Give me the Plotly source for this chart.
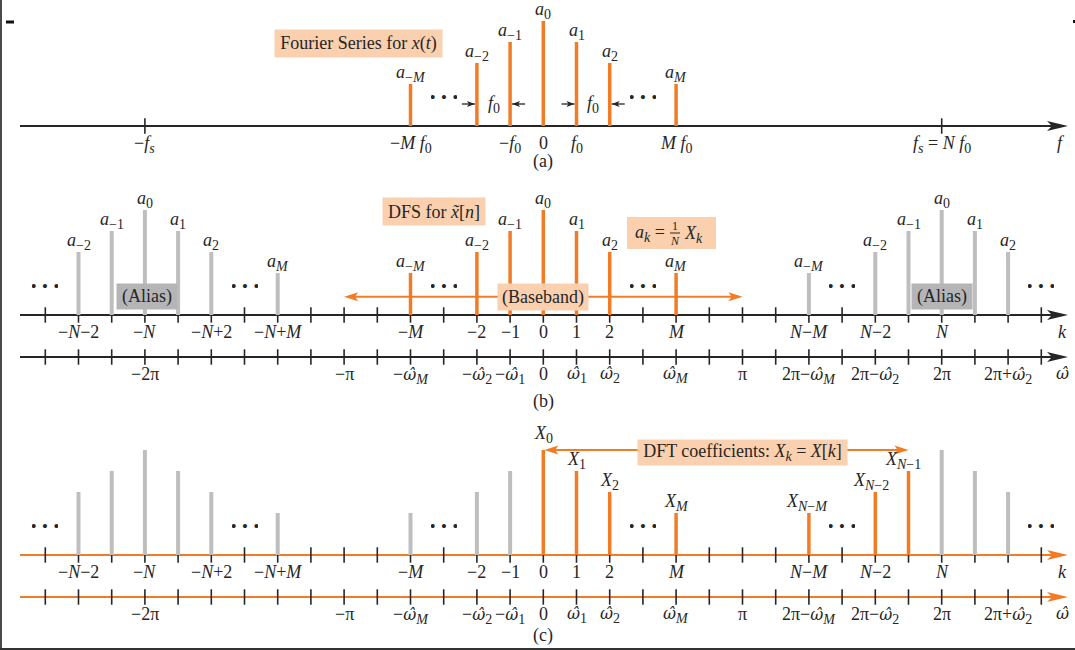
import plotly.graph_objects as go


def S(x):
    """subscript, slightly larger than plotly's default"""
    return '<sub><span style="font-size:14px">' + x + '</span></sub>'


# ---------------- data ----------------
# drawing index positions: M -> 4, N -> 12 (omega: pi -> 6, 2pi -> 12)
ticks_a = [-12, 12]
ticks_bc = list(range(-15, 16))

# (a) Fourier series lines
fs_k = [-4, -2, -1, 0, 1, 2, 4]
fs_amp = [0.4, 0.6, 0.8, 1.0, 0.8, 0.6, 0.4]
fs_lab = ["<i>a</i>" + S("−<i>M</i>"), "<i>a</i>" + S("−2"), "<i>a</i>" + S("−1"),
          "<i>a</i>" + S("0"), "<i>a</i>" + S("1"), "<i>a</i>" + S("2"),
          "<i>a</i>" + S("<i>M</i>")]

# (b) DFS: left alias, baseband, right alias
bl_k = [-14, -13, -12, -11, -10, -8]
bl_amp = [0.6, 0.8, 1.0, 0.8, 0.6, 0.4]
bl_lab = ["<i>a</i>" + S("−2"), "<i>a</i>" + S("−1"), "<i>a</i>" + S("0"),
          "<i>a</i>" + S("1"), "<i>a</i>" + S("2"), "<i>a</i>" + S("<i>M</i>")]
bb_k = [-4, -2, -1, 0, 1, 2, 4]
bb_amp = [0.4, 0.6, 0.8, 1.0, 0.8, 0.6, 0.4]
bb_lab = fs_lab
br_k = [8, 10, 11, 12, 13, 14]
br_amp = [0.4, 0.6, 0.8, 1.0, 0.8, 0.6]
br_lab = ["<i>a</i>" + S("−<i>M</i>"), "<i>a</i>" + S("−2"), "<i>a</i>" + S("−1"),
          "<i>a</i>" + S("0"), "<i>a</i>" + S("1"), "<i>a</i>" + S("2")]

# (c) DFT
cg_k = [-14, -13, -12, -11, -10, -8, -4, -2, -1, 12, 13, 14]
cg_amp = [0.6, 0.8, 1.0, 0.8, 0.6, 0.4, 0.4, 0.6, 0.8, 1.0, 0.8, 0.6]
cd_k = [0, 1, 2, 4, 8, 10, 11]
cd_amp = [1.0, 0.8, 0.6, 0.4, 0.4, 0.6, 0.8]
cd_lab = ["<i>X</i>" + S("0"), "<i>X</i>" + S("1"), "<i>X</i>" + S("2"),
          "<i>X</i>" + S("<i>M</i>"), "<i>X</i>" + S("<i>N</i>−<i>M</i>"),
          "<i>X</i>" + S("<i>N</i>−2"), "<i>X</i>" + S("<i>N</i>−1")]

# tick labels
fa_pos = [-12, -4, -1, 0, 1, 4, 12]
fa_txt = ["−<i>f</i>" + S("<i>s</i>"), "−<i>M f</i>" + S("0"), "−<i>f</i>" + S("0"), "0",
          "<i>f</i>" + S("0"), "<i>M f</i>" + S("0"),
          "<i>f</i>" + S("<i>s</i>") + " = <i>N f</i>" + S("0")]
k_pos = [-14, -12, -10, -8, -4, -2, -1, 0, 1, 2, 4, 8, 10, 12]
k_txt = ["−<i>N</i>−2", "−<i>N</i>", "−<i>N</i>+2", "−<i>N</i>+<i>M</i>", "−<i>M</i>", "−2", "−1",
         "0", "1", "2", "<i>M</i>", "<i>N</i>−<i>M</i>", "<i>N</i>−2", "<i>N</i>"]
w_pos = [-12, -6, -4, -2, -1, 0, 1, 2, 4, 6, 8, 10, 12, 14]
W = '<span style="font-family:DejaVu Serif;font-style:italic;font-size:16px">ω\u0302</span>'
w_txt = ["−2π", "−π", "−" + W + S("<i>M</i>"), "−" + W + S("2"),
         "−" + W + S("1"), "0", W + S("1"), W + S("2"),
         W + S("<i>M</i>"), "π", "2π−" + W + S("<i>M</i>"),
         "2π−" + W + S("2"), "2π", "2π+" + W + S("2")]
dots_a = [-3, 3]
dots_bc = [-15, -9, -3, 3, 9, 15]

# ---------------- styling / geometry ----------------
ORANGE = "#F27C26"
GREY = "#BEBEBE"
PEACH = "#FBD0AE"
ALIAS = "#B5B5B7"
INK = "#262626"
FONT = "Liberation Serif"
FS = 18

W_PX, H_PX = 1075, 650
X0PX, KPX, UNIT = 543.3, 33.2, 105.0
BASE = {"y": 126.0, "y2": 315.0, "y3": 555.0}
OMEGA_OFF = -0.4


def kx(px):
    return (px - X0PX) / KPX


def yu(py, ax):
    return (BASE[ax] - py) / UNIT


def yrange(ax):
    top = BASE[ax] / UNIT
    return [top - H_PX / UNIT, top]


fig = go.Figure()
shapes = []
ann = []


def stems(ks, amps, color, width, ax):
    xs, ys = [], []
    for k, a in zip(ks, amps):
        xs += [k, k, None]
        ys += [0, a, None]
    fig.add_trace(go.Scatter(x=xs, y=ys, mode="lines", yaxis=ax,
                             line=dict(color=color, width=width),
                             hoverinfo="skip", showlegend=False))


def ticks(ks, yval, ax):
    fig.add_trace(go.Scatter(x=ks, y=[yval] * len(ks), mode="markers", yaxis=ax,
                             marker=dict(symbol="line-ns", size=11,
                                         line=dict(color=INK, width=1.6)),
                             hoverinfo="skip", showlegend=False))


def arrow_head(xtip, ytip, ax, direction, color, L=20, H=5, notch=5):
    d = direction
    pts = [(xtip, ytip),
           (xtip - d * L / KPX, ytip + H / UNIT),
           (xtip - d * (L - notch) / KPX, ytip),
           (xtip - d * L / KPX, ytip - H / UNIT)]
    path = "M " + " L ".join(f"{x:.4f},{y:.4f}" for x, y in pts) + " Z"
    shapes.append(dict(type="path", path=path, xref="x", yref=ax,
                       fillcolor=color, line=dict(width=0), layer="above"))


def hline(x0, x1, yv, ax, color, width):
    shapes.append(dict(type="line", x0=x0, x1=x1, y0=yv, y1=yv, xref="x", yref=ax,
                       line=dict(color=color, width=width), layer="below"))


def axis(yv, ax, color):
    hline(kx(20), kx(1056), yv, ax, color, 2.2)
    arrow_head(kx(1068), yv, ax, 1, color, L=21, H=5, notch=5)


def text(x, y, ax, s, size=FS, xanchor="center", yanchor="middle", **kw):
    ann.append(dict(x=x, y=y, xref="x", yref=ax, text=s, showarrow=False,
                    xanchor=xanchor, yanchor=yanchor,
                    font=dict(family=FONT, size=size, color=INK), **kw))


def stem_labels(ks, amps, labs, ax, shifts=None, yshifts=None):
    for i, (k, a, s) in enumerate(zip(ks, amps, labs)):
        xs = shifts[i] if shifts else 0
        ys = yshifts[i] if yshifts else 0
        text(k, a, ax, s, yanchor="bottom", yshift=-3 + ys, xshift=xs)


def tick_labels(pos, txt, yv, ax):
    for p, s in zip(pos, txt):
        text(p, yv - 5 / UNIT, ax, s, yanchor="top")


def dots(ks, ax):
    for k in ks:
        text(k, 30 / UNIT, ax, "···", size=34, yshift=0, width=26, height=12,
             valign="middle")


def box(cx, cy, ax, s, w, h, bg):
    ann.append(dict(x=kx(cx), y=yu(cy, ax), xref="x", yref=ax, text=s, showarrow=False,
                    xanchor="center", yanchor="middle", width=w, height=h,
                    bgcolor=bg, borderpad=0,
                    font=dict(family=FONT, size=FS, color=INK)))


# ---------------- panel (a) ----------------
axis(0, "y", INK)
ticks(ticks_a, 0, "y")
stems(fs_k, fs_amp, ORANGE, 3.5, "y")
stem_labels(fs_k, fs_amp, fs_lab, "y")
tick_labels(fa_pos, fa_txt, 0, "y")
text(kx(1061), -5 / UNIT, "y", "<i>f</i>", yanchor="top")
dots(dots_a, "y")
box(358, 43, "y", "Fourier Series for <i>x</i>(<i>t</i>)", 167, 27, PEACH)
text(0, yu(161, "y"), "y", "(a)")
# f0 spacing markers
yf = yu(104, "y")
for left, right in [(-2, -1), (1, 2)]:
    hline(left - 15 / KPX, left - 2 / KPX, yf, "y", INK, 1.3)
    arrow_head(left - 2 / KPX, yf, "y", 1, INK, L=8, H=3, notch=2)
    hline(right + 2 / KPX, right + 15 / KPX, yf, "y", INK, 1.3)
    arrow_head(right + 2 / KPX, yf, "y", -1, INK, L=8, H=3, notch=2)
    text((left + right) / 2, yf, "y", "<i>f</i>" + S("0"))

# ---------------- panel (b) ----------------
axis(0, "y2", INK)
axis(OMEGA_OFF, "y2", INK)
ticks(ticks_bc, 0, "y2")
ticks(ticks_bc, OMEGA_OFF, "y2")
yb = yu(296.7, "y2")
hline(-6 + 8 / KPX, 6 - 8 / KPX, yb, "y2", ORANGE, 2)
arrow_head(-6, yb, "y2", -1, ORANGE, L=14, H=4.5, notch=3)
arrow_head(6, yb, "y2", 1, ORANGE, L=14, H=4.5, notch=3)
stems(bl_k, bl_amp, GREY, 4, "y2")
stems(br_k, br_amp, GREY, 4, "y2")
stems(bb_k, bb_amp, ORANGE, 3.5, "y2")
stem_labels(bl_k, bl_amp, bl_lab, "y2")
stem_labels(bb_k, bb_amp, bb_lab, "y2")
stem_labels(br_k, br_amp, br_lab, "y2")
tick_labels(k_pos, k_txt, 0, "y2")
tick_labels(w_pos, w_txt, OMEGA_OFF, "y2")
text(kx(1062), -5 / UNIT, "y2", "<i>k</i>", yanchor="top")
text(kx(1062), OMEGA_OFF - 5 / UNIT, "y2", W, yanchor="top")
dots(dots_bc, "y2")
box(434, 211, "y2", "DFS for <i>x\u0303</i>[<i>n</i>]", 102, 27, PEACH)
box(543, 296.5, "y2", "(Baseband)", 90, 26, PEACH)
box(146.5, 296.5, "y2", "(Alias)", 60, 25, ALIAS)
box(941.5, 296.5, "y2", "(Alias)", 60, 25, ALIAS)
# a_k = (1/N) X_k box
shapes.append(dict(type="rect", xref="x", yref="y2", x0=kx(627), x1=kx(716),
                   y0=yu(217, "y2"), y1=yu(249, "y2"), fillcolor=PEACH,
                   line=dict(width=0), layer="above"))
text(kx(667), yu(233, "y2"), "y2", "<i>a</i>" + S("<i>k</i>") + " =", xanchor="right")
text(kx(675), yu(226, "y2"), "y2", "1", size=12)
text(kx(675), yu(240.5, "y2"), "y2", "<i>N</i>", size=12)
shapes.append(dict(type="line", xref="x", yref="y2", x0=kx(670), x1=kx(680),
                   y0=yu(233, "y2"), y1=yu(233, "y2"), line=dict(color=INK, width=1),
                   layer="above"))
text(kx(682), yu(234, "y2"), "y2", "<i>X</i>" + S("<i>k</i>"), xanchor="left")
text(0, yu(401, "y2"), "y2", "(b)")

# ---------------- panel (c) ----------------
axis(0, "y3", ORANGE)
axis(OMEGA_OFF, "y3", ORANGE)
ticks(ticks_bc, 0, "y3")
ticks(ticks_bc, OMEGA_OFF, "y3")
stems(cg_k, cg_amp, GREY, 4, "y3")
stems(cd_k, cd_amp, ORANGE, 3.5, "y3")
hline(0 + 8 / KPX, 11 - 8 / KPX, 1.0, "y3", ORANGE, 2)
arrow_head(0 + 1 / KPX, 1.0, "y3", -1, ORANGE, L=14, H=4.5, notch=3)
arrow_head(11, 1.0, "y3", 1, ORANGE, L=14, H=4.5, notch=3)
stem_labels(cd_k, cd_amp, cd_lab, "y3", shifts=[0, 0, 0, 0, -2, -4, -6],
            yshifts=[5, 0, 0, 0, 0, 0, 0])
tick_labels(k_pos, k_txt, 0, "y3")
tick_labels(w_pos, w_txt, OMEGA_OFF, "y3")
text(kx(1062), -5 / UNIT, "y3", "<i>k</i>", yanchor="top")
text(kx(1062), OMEGA_OFF - 5 / UNIT, "y3", W, yanchor="top")
dots(dots_bc, "y3")
box(742, 452, "y3", "DFT coefficients: <i>X</i>" + S("<i>k</i>") + " = <i>X</i>[<i>k</i>]",
    209, 25, PEACH)
text(0, yu(635, "y3"), "y3", "(c)")


# ---------------- page frame marks ----------------
def pline(x0, y0, x1, y1, color, width):
    shapes.append(dict(type="line", xref="paper", yref="paper",
                       x0=x0 / W_PX, x1=x1 / W_PX, y0=1 - y0 / H_PX, y1=1 - y1 / H_PX,
                       line=dict(color=color, width=width), layer="above"))


pline(1, 0, 1, 650, "#4a4a4a", 2)
pline(0, 649, 1075, 649, "#333333", 2)
pline(6, 22, 14, 22, "#111111", 3)
pline(1074, 20, 1074, 23, "#111111", 2)

ax_common = dict(visible=False, fixedrange=True)
fig.update_layout(
    width=W_PX, height=H_PX, autosize=False,
    margin=dict(l=0, r=0, t=0, b=0, pad=0),
    paper_bgcolor="white", plot_bgcolor="white",
    showlegend=False,
    xaxis=dict(range=[kx(0), kx(W_PX)], domain=[0, 1], **ax_common),
    yaxis=dict(range=yrange("y"), domain=[0, 1], **ax_common),
    yaxis2=dict(range=yrange("y2"), domain=[0, 1], overlaying="y", **ax_common),
    yaxis3=dict(range=yrange("y3"), domain=[0, 1], overlaying="y", **ax_common),
    shapes=shapes,
    annotations=ann,
)

fig.write_html("out.html", config={"displayModeBar": False},
               post_script="document.body.style.margin='0';")
